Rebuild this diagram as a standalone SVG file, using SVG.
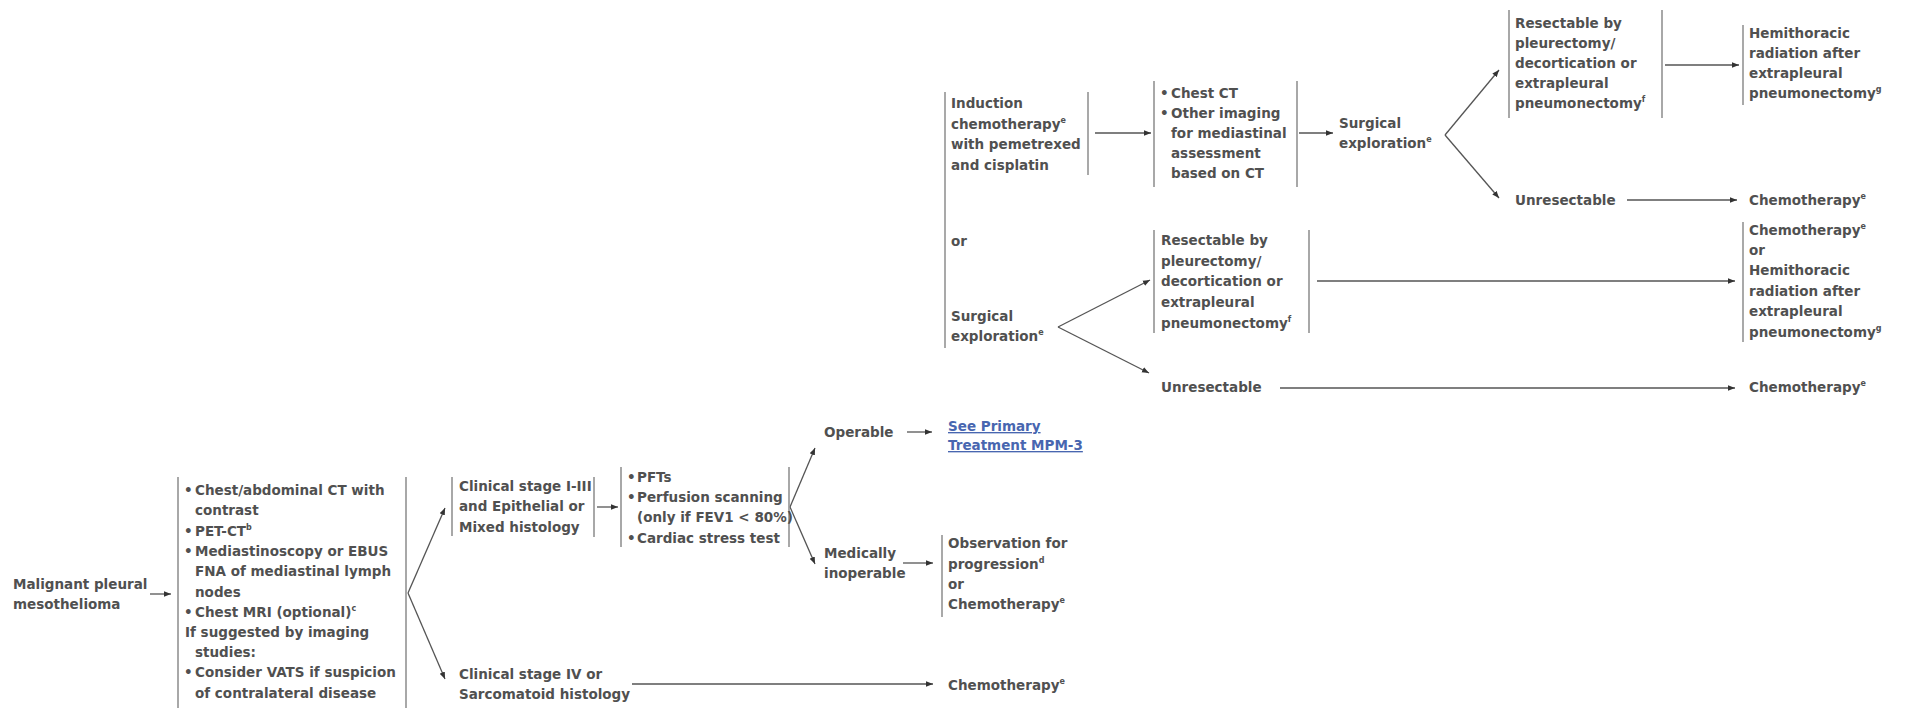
<svg xmlns="http://www.w3.org/2000/svg" width="1916" height="709" viewBox="0 0 1916 709">
<defs>
<style>
.t { font-family: "DejaVu Sans", Verdana, sans-serif; font-weight: bold; font-size: 13.5px; fill: #505050; }
.sup { font-size: 8px; }
.link { fill: #4866b0; text-decoration: underline; }
.bar { stroke: #8c8c8c; stroke-width: 1.5; fill: none; }
.c { stroke: #555; stroke-width: 1.3; fill: none; marker-end: url(#ah); }
</style>
<marker id="ah" viewBox="0 0 8 8" refX="8" refY="4" markerWidth="7" markerHeight="7" markerUnits="userSpaceOnUse" orient="auto">
<path d="M0,0.8 L8,4 L0,7.2 z" fill="#333"/>
</marker>
</defs>
<rect width="1916" height="709" fill="#ffffff"/>

<g id="connectors">
<path class="c" d="M150,594 L171,594"/>
<path class="c" d="M408,593 L445,508"/>
<path class="c" d="M408,593 L445,679"/>
<path class="c" d="M597,507 L618,507"/>
<path class="c" d="M790,507 L815,448"/>
<path class="c" d="M790,507 L815,564"/>
<path class="c" d="M907,432 L932,432"/>
<path class="c" d="M903,563 L933,563"/>
<path class="c" d="M632,684 L933,684"/>
<path class="c" d="M1095,133 L1151,133"/>
<path class="c" d="M1299,133 L1333,133"/>
<path class="c" d="M1445,135 L1499,70"/>
<path class="c" d="M1445,135 L1499,198"/>
<path class="c" d="M1665,65 L1739,65"/>
<path class="c" d="M1627,200 L1737,200"/>
<path class="c" d="M1058,327 L1150,280"/>
<path class="c" d="M1058,327 L1149,373"/>
<path class="c" d="M1317,281 L1735,281"/>
<path class="c" d="M1280,388 L1735,388"/>
</g>

<g id="n-mpm">
<text class="t"><tspan x="13" y="589">Malignant pleural</tspan><tspan x="13" y="609">mesothelioma</tspan></text>
</g>

<g id="n-workup">
<path class="bar" d="M178,477 V708 M406,477 V708"/>
<text class="t">
<tspan x="184" y="495">•</tspan><tspan x="195" y="495">Chest/abdominal CT with</tspan>
<tspan x="195" y="515">contrast</tspan>
<tspan x="184" y="536">•</tspan><tspan x="195" y="536">PET-CT</tspan><tspan class="sup" dy="-6">b</tspan>
<tspan x="184" y="556">•</tspan><tspan x="195" y="556">Mediastinoscopy or EBUS</tspan>
<tspan x="195" y="576">FNA of mediastinal lymph</tspan>
<tspan x="195" y="597">nodes</tspan>
<tspan x="184" y="617">•</tspan><tspan x="195" y="617">Chest MRI (optional)</tspan><tspan class="sup" dy="-6">c</tspan>
<tspan x="185" y="637">If suggested by imaging</tspan>
<tspan x="195" y="657">studies:</tspan>
<tspan x="184" y="677">•</tspan><tspan x="195" y="677">Consider VATS if suspicion</tspan>
<tspan x="195" y="698">of contralateral disease</tspan>
</text>
</g>

<g id="n-stage13">
<path class="bar" d="M452,477 V536 M594,477 V537"/>
<text class="t"><tspan x="459" y="491">Clinical stage I-III</tspan><tspan x="459" y="511">and Epithelial or</tspan><tspan x="459" y="532">Mixed histology</tspan></text>
</g>

<g id="n-pft">
<path class="bar" d="M621,467 V547 M789,467 V547"/>
<text class="t">
<tspan x="627" y="482">•</tspan><tspan x="637" y="482">PFTs</tspan>
<tspan x="627" y="502">•</tspan><tspan x="637" y="502">Perfusion scanning</tspan>
<tspan x="637" y="522">(only if FEV1 &lt; 80%)</tspan>
<tspan x="627" y="543">•</tspan><tspan x="637" y="543">Cardiac stress test</tspan>
</text>
</g>

<g id="n-operable">
<text class="t" x="824" y="437">Operable</text>
</g>

<g id="n-seeprimary">
<text class="t link"><tspan x="948" y="431">See Primary</tspan><tspan x="948" y="450">Treatment MPM-3</tspan></text>
</g>

<g id="n-medinop">
<text class="t"><tspan x="824" y="558">Medically</tspan><tspan x="824" y="578">inoperable</tspan></text>
</g>

<g id="n-observation">
<path class="bar" d="M942,535 V617"/>
<text class="t"><tspan x="948" y="548">Observation for</tspan><tspan x="948" y="569">progression</tspan><tspan class="sup" dy="-6">d</tspan><tspan x="948" y="589">or</tspan><tspan x="948" y="609">Chemotherapy</tspan><tspan class="sup" dy="-6">e</tspan></text>
</g>

<g id="n-stage4">
<text class="t"><tspan x="459" y="679">Clinical stage IV or</tspan><tspan x="459" y="699">Sarcomatoid histology</tspan></text>
</g>

<g id="n-chemo-bottom">
<text class="t"><tspan x="948" y="690">Chemotherapy</tspan><tspan class="sup" dy="-6">e</tspan></text>
</g>

<g id="n-options">
<path class="bar" d="M945,92 V348"/>
<text class="t" x="951" y="246">or</text>
</g>

<g id="n-induction">
<path class="bar" d="M1088,92 V175"/>
<text class="t"><tspan x="951" y="108">Induction</tspan><tspan x="951" y="129">chemotherapy</tspan><tspan class="sup" dy="-6">e</tspan><tspan x="951" y="149">with pemetrexed</tspan><tspan x="951" y="170">and cisplatin</tspan></text>
</g>

<g id="n-surgexp2">
<text class="t"><tspan x="951" y="321">Surgical</tspan><tspan x="951" y="341">exploration</tspan><tspan class="sup" dy="-6">e</tspan></text>
</g>

<g id="n-chestct">
<path class="bar" d="M1154,81 V187 M1297,81 V187"/>
<text class="t">
<tspan x="1160" y="98">•</tspan><tspan x="1171" y="98">Chest CT</tspan>
<tspan x="1160" y="118">•</tspan><tspan x="1171" y="118">Other imaging</tspan>
<tspan x="1171" y="138">for mediastinal</tspan>
<tspan x="1171" y="158">assessment</tspan>
<tspan x="1171" y="178">based on CT</tspan>
</text>
</g>

<g id="n-surgexp1">
<text class="t"><tspan x="1339" y="128">Surgical</tspan><tspan x="1339" y="148">exploration</tspan><tspan class="sup" dy="-6">e</tspan></text>
</g>

<g id="n-resect1">
<path class="bar" d="M1509,10 V118 M1662,10 V118"/>
<text class="t"><tspan x="1515" y="28">Resectable by</tspan><tspan x="1515" y="48">pleurectomy/</tspan><tspan x="1515" y="68">decortication or</tspan><tspan x="1515" y="88">extrapleural</tspan><tspan x="1515" y="108">pneumonectomy</tspan><tspan class="sup" dy="-6">f</tspan></text>
</g>

<g id="n-hemi1">
<path class="bar" d="M1743,25 V105"/>
<text class="t"><tspan x="1749" y="38">Hemithoracic</tspan><tspan x="1749" y="58">radiation after</tspan><tspan x="1749" y="78">extrapleural</tspan><tspan x="1749" y="98">pneumonectomy</tspan><tspan class="sup" dy="-6">g</tspan></text>
</g>

<g id="n-unresect1">
<text class="t" x="1515" y="205">Unresectable</text>
</g>

<g id="n-chemo1">
<text class="t"><tspan x="1749" y="205">Chemotherapy</tspan><tspan class="sup" dy="-6">e</tspan></text>
</g>

<g id="n-resect2">
<path class="bar" d="M1154,230 V333 M1309,230 V333"/>
<text class="t"><tspan x="1161" y="245">Resectable by</tspan><tspan x="1161" y="266">pleurectomy/</tspan><tspan x="1161" y="286">decortication or</tspan><tspan x="1161" y="307">extrapleural</tspan><tspan x="1161" y="328">pneumonectomy</tspan><tspan class="sup" dy="-6">f</tspan></text>
</g>

<g id="n-chemo-hemi2">
<path class="bar" d="M1743,222 V342"/>
<text class="t"><tspan x="1749" y="235">Chemotherapy</tspan><tspan class="sup" dy="-6">e</tspan><tspan x="1749" y="255">or</tspan><tspan x="1749" y="275">Hemithoracic</tspan><tspan x="1749" y="296">radiation after</tspan><tspan x="1749" y="316">extrapleural</tspan><tspan x="1749" y="337">pneumonectomy</tspan><tspan class="sup" dy="-6">g</tspan></text>
</g>

<g id="n-unresect2">
<text class="t" x="1161" y="392">Unresectable</text>
</g>

<g id="n-chemo2">
<text class="t"><tspan x="1749" y="392">Chemotherapy</tspan><tspan class="sup" dy="-6">e</tspan></text>
</g>
</svg>
